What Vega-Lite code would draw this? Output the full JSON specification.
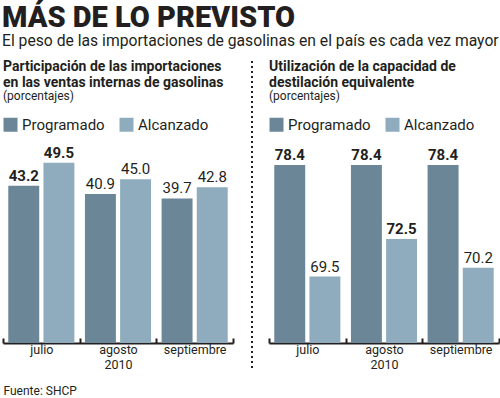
{
  "$schema": "https://vega.github.io/schema/vega-lite/v6.json",
  "background": "white",
  "padding": {"left": 2, "top": 4, "right": 3, "bottom": 0},
  "title": {
    "text": "MÁS DE LO PREVISTO",
    "subtitle": "El peso de las importaciones de gasolinas en el país es cada vez mayor",
    "anchor": "start",
    "font": "Roboto, sans-serif",
    "fontSize": 29,
    "fontWeight": 900,
    "color": "#231f20",
    "subtitleFont": "Roboto, sans-serif",
    "subtitleFontSize": 15.7,
    "subtitleFontWeight": "normal",
    "subtitleColor": "#231f20",
    "subtitlePadding": 1,
    "offset": 11
  },
  "datasets": {
    "importaciones": [
      {"mes": "julio", "serie": "Programado", "valor": 43.2},
      {"mes": "julio", "serie": "Alcanzado", "valor": 49.5},
      {"mes": "agosto", "serie": "Programado", "valor": 40.9},
      {"mes": "agosto", "serie": "Alcanzado", "valor": 45.0},
      {"mes": "septiembre", "serie": "Programado", "valor": 39.7},
      {"mes": "septiembre", "serie": "Alcanzado", "valor": 42.8}
    ],
    "destilacion": [
      {"mes": "julio", "serie": "Programado", "valor": 78.4},
      {"mes": "julio", "serie": "Alcanzado", "valor": 69.5},
      {"mes": "agosto", "serie": "Programado", "valor": 78.4},
      {"mes": "agosto", "serie": "Alcanzado", "valor": 72.5},
      {"mes": "septiembre", "serie": "Programado", "valor": 78.4},
      {"mes": "septiembre", "serie": "Alcanzado", "valor": 70.2}
    ]
  },
  "spacing": 17,
  "resolve": {"scale": {"color": "independent"}, "legend": {"color": "independent"}},
  "hconcat": [
    {
      "width": 230,
      "height": 193,
      "title": {
        "text": ["Participación de las importaciones", "en las ventas internas de gasolinas"],
        "subtitle": "(porcentajes)",
        "anchor": "start",
        "frame": "group",
        "offset": -42
      },
      "layer": [
        {
          "data": {"name": "importaciones"},
          "encoding": {
            "x": {
              "field": "mes", "type": "nominal", "sort": ["julio", "agosto", "septiembre"],
              "scale": {"paddingInner": 0, "paddingOuter": 0},
              "axis": {
                "title": "Fuente: SHCP",
                "titleAnchor": "start",
                "titleFontSize": 12,
                "titleFontWeight": "normal",
                "titleColor": "#231f20",
                "titlePadding": 15
              }
            },
            "xOffset": {
              "field": "serie", "type": "nominal", "sort": ["Programado", "Alcanzado"],
              "scale": {"paddingInner": 0.12, "paddingOuter": 0.15}
            },
            "y": {"field": "valor", "type": "quantitative", "scale": {"domain": [0, 53], "nice": false}, "axis": null}
          },
          "layer": [
            {
              "mark": {"type": "bar"},
              "encoding": {
                "color": {
                  "field": "serie", "type": "nominal",
                  "scale": {"domain": ["Programado", "Alcanzado"], "range": ["#6b8696", "#8eacbd"]},
                  "legend": {"orient": "none", "legendX": 0, "legendY": -33}
                }
              }
            },
            {
              "transform": [
                {"joinaggregate": [{"op": "max", "field": "valor", "as": "maxv"}], "groupby": ["serie"]},
                {"filter": "datum.valor === datum.maxv"}
              ],
              "mark": {"type": "text", "fontWeight": "bold", "baseline": "alphabetic", "dy": -5},
              "encoding": {"text": {"field": "valor", "type": "quantitative", "format": ".1f"}}
            },
            {
              "transform": [
                {"joinaggregate": [{"op": "max", "field": "valor", "as": "maxv"}], "groupby": ["serie"]},
                {"filter": "datum.valor !== datum.maxv"}
              ],
              "mark": {"type": "text", "fontWeight": "normal", "baseline": "alphabetic", "dy": -5},
              "encoding": {"text": {"field": "valor", "type": "quantitative", "format": ".1f"}}
            }
          ]
        },
        {
          "data": {"values": [{}]},
          "mark": {"type": "rule", "strokeOpacity": 0, "strokeWidth": 1},
          "encoding": {
            "x": {"datum": "agosto", "type": "nominal"},
            "y": {"datum": 77.7, "type": "quantitative"},
            "y2": {"datum": 0}
          }
        }
      ]
    },
    {
      "width": 230,
      "height": 193,
      "title": {
        "text": ["Utilización de la capacidad de", "destilación equivalente"],
        "subtitle": "(porcentajes)",
        "anchor": "start",
        "frame": "group",
        "offset": -42
      },
      "layer": [
        {
          "data": {"name": "destilacion"},
          "encoding": {
            "x": {
              "field": "mes", "type": "nominal", "sort": ["julio", "agosto", "septiembre"],
              "scale": {"paddingInner": 0, "paddingOuter": 0},
              "axis": {"title": null}
            },
            "xOffset": {
              "field": "serie", "type": "nominal", "sort": ["Programado", "Alcanzado"],
              "scale": {"paddingInner": 0.12, "paddingOuter": 0.15}
            },
            "y": {"field": "valor", "type": "quantitative", "scale": {"domain": [64.2, 79.6], "nice": false, "zero": false}, "axis": null}
          },
          "layer": [
            {
              "mark": {"type": "bar"},
              "encoding": {
                "y2": {"datum": 64.2},
                "color": {
                  "field": "serie", "type": "nominal",
                  "scale": {"domain": ["Programado", "Alcanzado"], "range": ["#6b8696", "#8eacbd"]},
                  "legend": {"orient": "none", "legendX": 0, "legendY": -33}
                }
              }
            },
            {
              "transform": [
                {"joinaggregate": [{"op": "max", "field": "valor", "as": "maxv"}], "groupby": ["serie"]},
                {"filter": "datum.valor === datum.maxv"}
              ],
              "mark": {"type": "text", "fontWeight": "bold", "baseline": "alphabetic", "dy": -5},
              "encoding": {"text": {"field": "valor", "type": "quantitative", "format": ".1f"}}
            },
            {
              "transform": [
                {"joinaggregate": [{"op": "max", "field": "valor", "as": "maxv"}], "groupby": ["serie"]},
                {"filter": "datum.valor !== datum.maxv"}
              ],
              "mark": {"type": "text", "fontWeight": "normal", "baseline": "alphabetic", "dy": -5},
              "encoding": {"text": {"field": "valor", "type": "quantitative", "format": ".1f"}}
            }
          ]
        },
        {
          "data": {"values": [{}]},
          "mark": {"type": "rule", "strokeDash": [2, 3], "strokeWidth": 2, "color": "#231f20", "xOffset": -17},
          "encoding": {
            "x": {"datum": "julio", "type": "nominal", "bandPosition": 0},
            "y": {"datum": 86.7, "type": "quantitative"},
            "y2": {"datum": 62.0}
          }
        }
      ]
    }
  ],
  "config": {
    "font": "Roboto, sans-serif",
    "view": {"stroke": null},
    "title": {
      "fontSize": 14,
      "fontWeight": "bold",
      "color": "#231f20",
      "lineHeight": 16,
      "subtitleFontSize": 12,
      "subtitleColor": "#231f20",
      "subtitlePadding": 1
    },
    "text": {"fontSize": 15, "color": "#231f20"},
    "axisX": {
      "domainColor": "#231f20",
      "domainWidth": 2,
      "tickColor": "#231f20",
      "tickWidth": 2,
      "tickSize": -5,
      "tickBand": "extent",
      "labelFontSize": 12.5,
      "labelColor": "#231f20",
      "labelAngle": 0,
      "labelPadding": 5,
      "labelLineHeight": 15,
      "labelExpr": "datum.value == 'agosto' ? ['agosto', '2010'] : datum.value"
    },
    "legend": {
      "title": null,
      "direction": "horizontal",
      "symbolType": "square",
      "symbolSize": 196,
      "symbolStrokeWidth": 0,
      "symbolOpacity": 1,
      "labelFontSize": 15,
      "labelColor": "#231f20",
      "labelOffset": 4,
      "columnPadding": 14
    }
  }
}
